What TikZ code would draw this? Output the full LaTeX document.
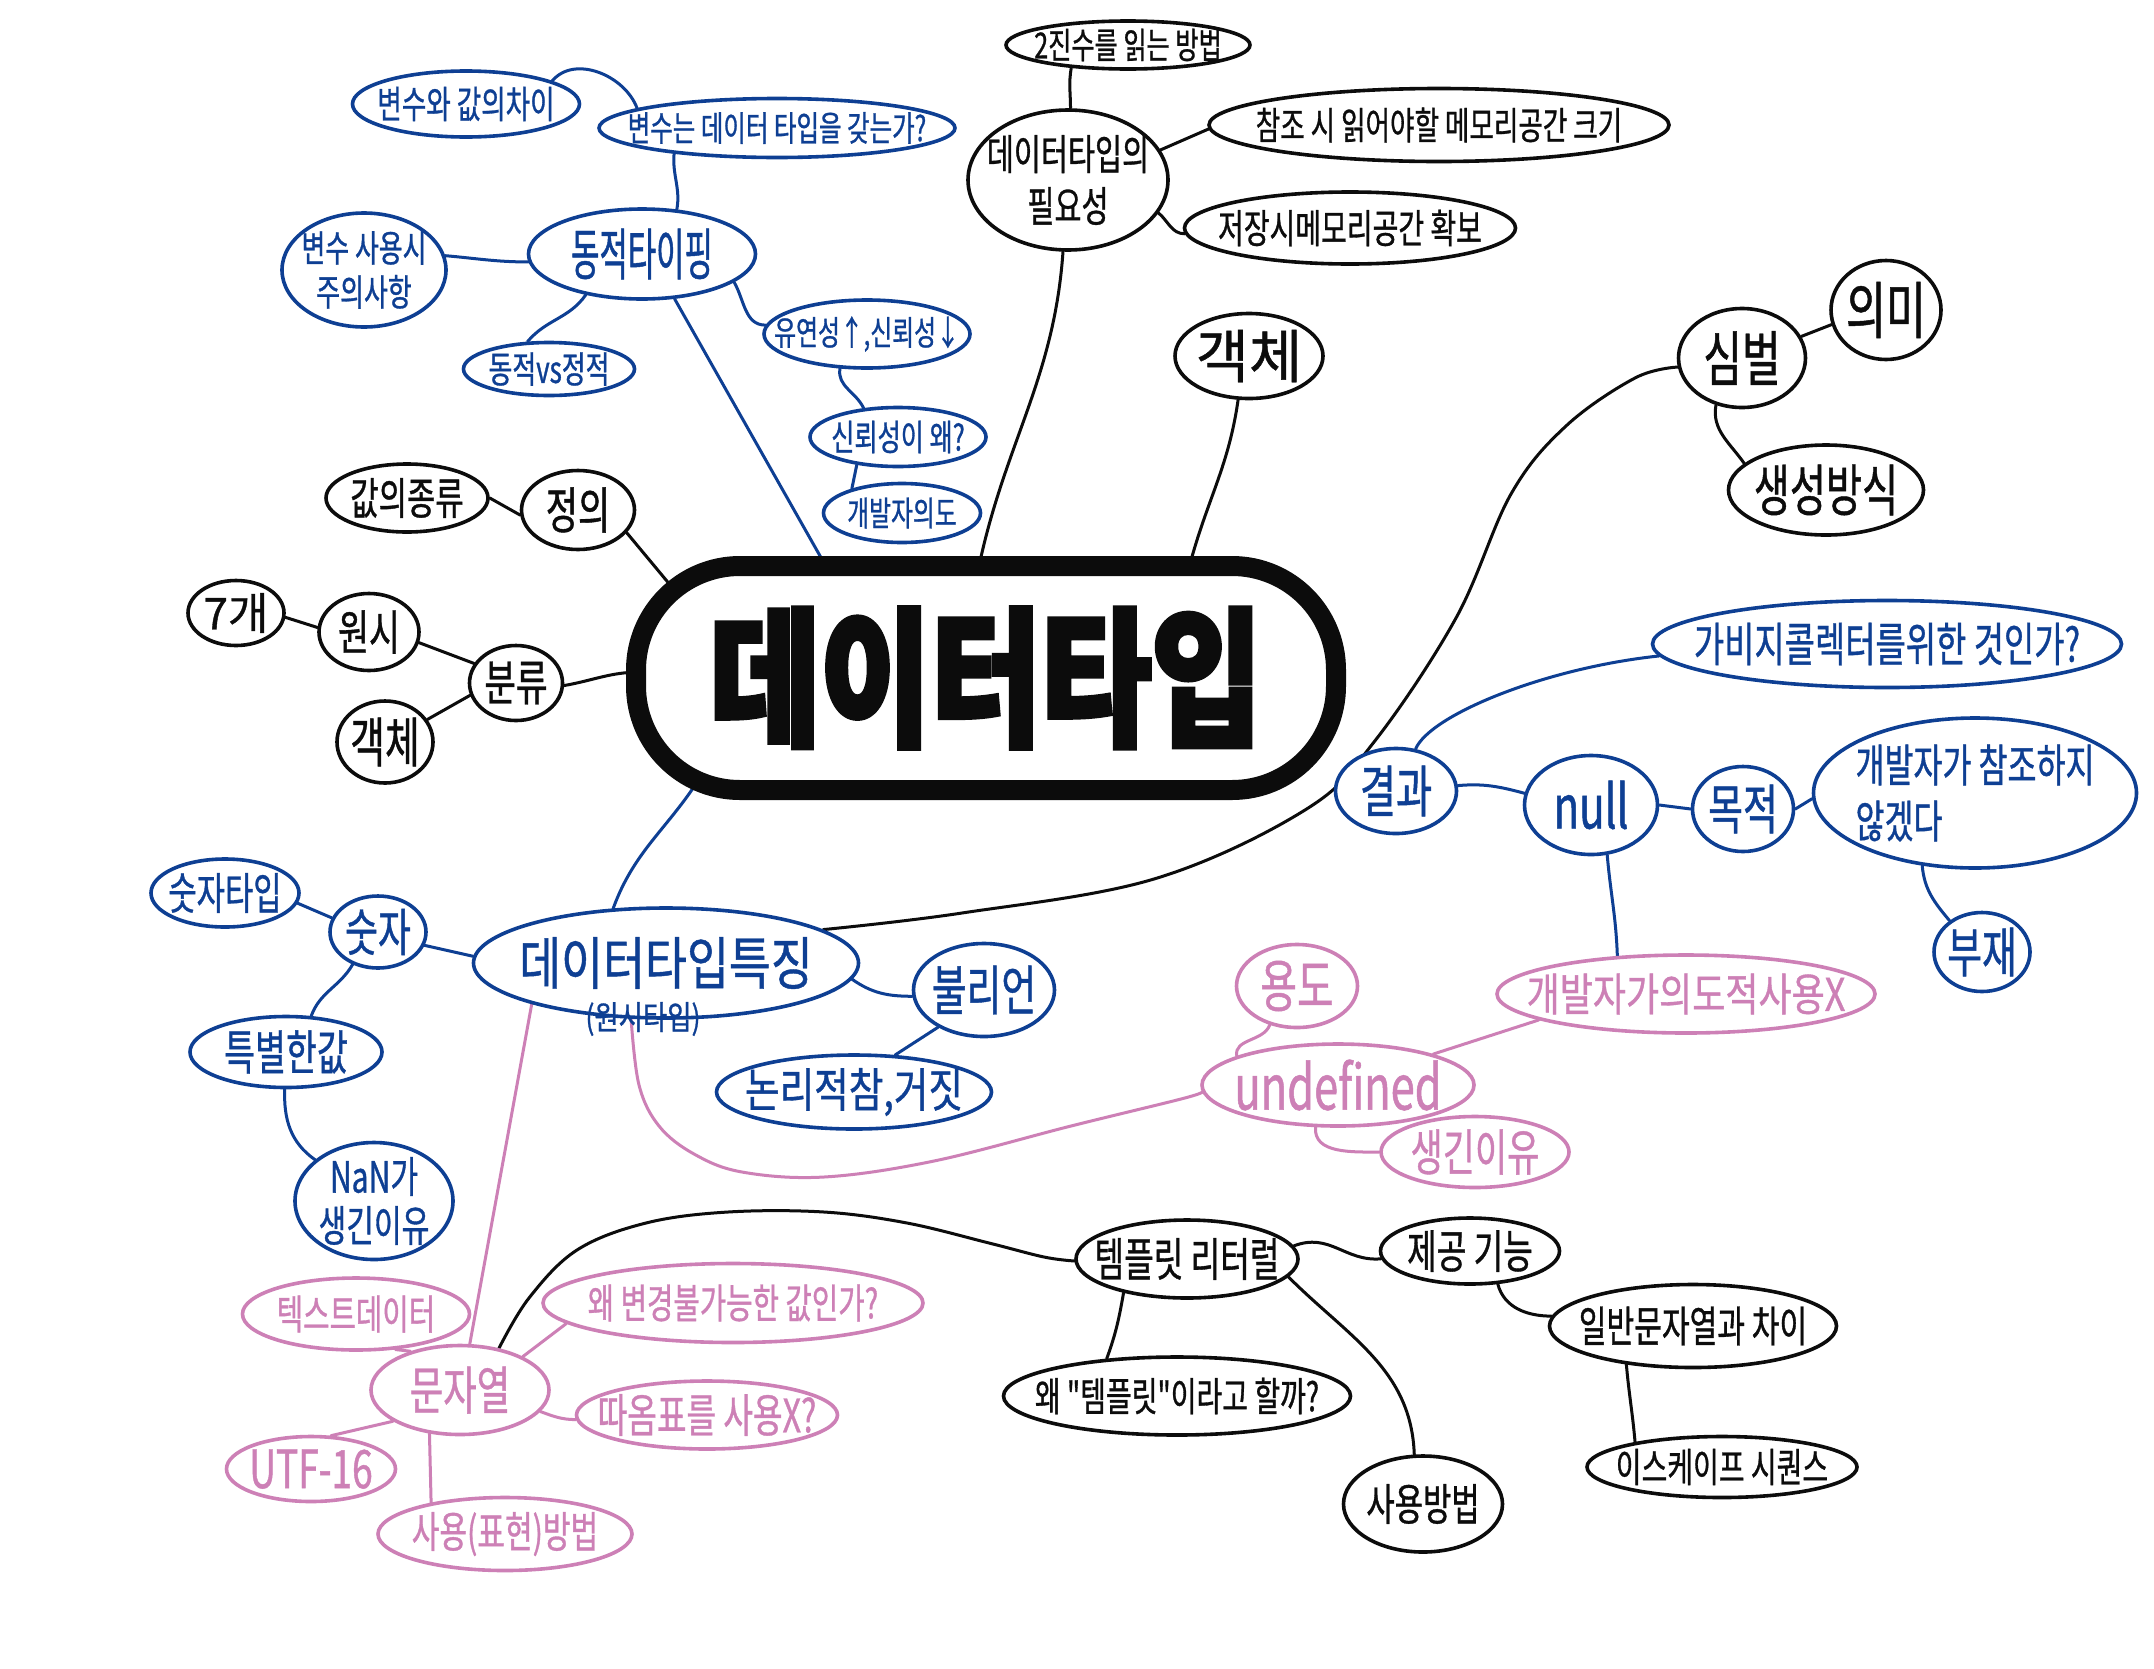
\documentclass[tikz,border=0pt]{standalone}
\usepackage{fontspec}
\newfontfamily\kr[FakeStretch=0.7,FakeBold=0.8]{Noto Sans CJK KR}
\newfontfamily\krn[FakeStretch=0.55,FakeBold=0.8]{Noto Sans CJK KR}
\newfontfamily\krm[FakeStretch=0.8,FakeBold=0.8,BoldFeatures={FakeBold=3}]{Noto Sans CJK KR}
\newfontfamily\krw[FakeBold=0.8]{Noto Sans CJK KR}
\newcommand\fsz[1]{\fontsize{#1}{#1}\selectfont}
\usetikzlibrary{shapes.geometric,calc}
\pgfdeclarelayer{bg}
\pgfdeclarelayer{edges}
\pgfsetlayers{bg,edges,main}
\definecolor{blu}{RGB}{14,63,147}
\definecolor{pnk}{RGB}{205,128,182}
\definecolor{ink}{RGB}{12,12,12}
\tikzset{
  bub/.style={ellipse, draw=ink, text=ink, fill=white, line width=3.6pt,
              inner xsep=-400pt, inner ysep=-200pt},
  bn/.style={bub},
  bl/.style={bub, draw=blu, text=blu},
  pk/.style={bub, draw=pnk, text=pnk},
  fk/.style={font={\kr\fsz{#1}}},
  fkn/.style={font={\krn\fsz{#1}}},
  fkm/.style={font={\krm\fsz{#1}}},
  fkw/.style={font={\krw\fsz{#1}}},
  wh/.style 2 args={minimum width=#1, minimum height=#2},
  ce/.style={draw=ink, line width=3pt, line cap=round},
  be/.style={draw=blu, line width=3pt, line cap=round},
  pe/.style={draw=pnk, line width=3pt, line cap=round},
}
\begin{document}
\begin{tikzpicture}[x=1pt,y=-1pt]
\begin{pgfonlayer}{bg}
\fill[white] (0,0) rectangle (2154,1668);
\end{pgfonlayer}
\useasboundingbox (0,0) rectangle (2154,1668);

% ---------- centre ----------
\node[draw=ink, line width=20pt, rounded corners=104pt, minimum width=700pt,
      minimum height=224pt, inner sep=0pt, fill=white, text=ink,
      font={\krm\bfseries\fontsize{150}{150}\selectfont}] (main) at (986,678) {데이터타입};

% ---------- blue, top left ----------
\node[bl, wh={227}{66}, fk=38] (vdiff) at (466,104) {변수와 값의차이};
\node[bl, wh={356}{59}, fk=35] (vtype) at (777,128) {변수는 데이터 타입을 갖는가?};
\node[bl, wh={227}{90}, fkn=56] (dyn) at (642,254) {동적타이핑};
\node[bl, wh={164}{114}, align=center, font={\kr\fontsize{37}{44}\selectfont}] (vuse) at (364,270) {변수 사용시\\주의사항};
\node[bl, wh={171}{53}, fk=37] (dvs) at (549,369) {동적vs정적};
\node[bl, wh={206}{68}, fk=34] (flex) at (867,334) {유연성↑,신뢰성↓};
\node[bl, wh={176}{59}, fk=36] (rel) at (898,437) {신뢰성이 왜?};
\node[bl, wh={157}{59}, fk=34] (intent) at (902,513) {개발자의도};

% ---------- black, top ----------
\node[bn, wh={244}{48}, fk=36] (bin) at (1128,45) {2진수를 읽는 방법};
\node[bn, wh={200}{140}, align=center, font={\kr\fontsize{42}{52}\selectfont}] (need) at (1068,180) {데이터타입의\\필요성};
\node[bn, wh={460}{73}, fk=38] (ref) at (1439,125) {참조 시 읽어야할 메모리공간 크기};
\node[bn, wh={331}{72}, fk=40] (store) at (1350,228) {저장시메모리공간 확보};
\node[bn, wh={148}{85}, fkw=58] (obj1) at (1249,356) {객체};
\node[bn, wh={127}{99}, fk=60] (sym) at (1742,358) {심벌};
\node[bn, wh={110}{99}, fk=62] (mean) at (1886,310) {의미};
\node[bn, wh={195}{90}, fk=56] (gen) at (1826,490) {생성방식};

% ---------- black, left ----------
\node[bn, wh={162}{68}, fk=44] (kinds) at (407,498) {값의종류};
\node[bn, wh={113}{79}, fk=50] (def) at (578,510) {정의};
\node[bn, wh={96}{65}, fkw=44] (seven) at (236,613) {7개};
\node[bn, wh={100}{77}, fk=48] (prim) at (369,632) {원시};
\node[bn, wh={93}{75}, fk=49] (cls) at (516,683) {분류};
\node[bn, wh={96}{82}, fk=54] (obj2) at (385,742) {객체};

% ---------- blue, right ----------
\node[bl, wh={469}{87}, fk=47] (gc) at (1887,644) {가비지콜렉터를위한 것인가?};
\node[bl, wh={121}{85}, fk=56] (res) at (1396,791) {결과};
\node[bl, wh={133}{99}, fk=60] (nul) at (1591,805) {null};
\node[bl, wh={101}{85}, fk=54] (purp) at (1743,809) {목적};
\node[bl, wh={323}{150}, align=left, font={\kr\fontsize{45}{56}\selectfont}] (noref) at (1975,793) {개발자가 참조하지\\않겠다};
\node[bl, wh={96}{79}, fk=54] (absent) at (1982,952) {부재};

% ---------- blue, lower left ----------
\node[bl, wh={148}{68}, fk=44] (numtype) at (225,893) {숫자타입};
\node[bl, wh={96}{72}, fk=51] (num) at (378,932) {숫자};
\node[bl, wh={385}{110}, fkm=57] (feat) at (666,963) {데이터타입특징};
\node[text=blu, fkm=33, inner sep=0pt] (featsub) at (643,1019) {(원시타입)};
\node[bl, wh={141}{93}, fk=54] (bool) at (984,990) {불리언};
\node[bl, wh={275}{74}, fkm=47] (logic) at (854,1092) {논리적참,거짓};
\node[bl, wh={192}{71}, fk=48] (special) at (286,1052) {특별한값};
\node[bl, wh={158}{117}, align=center, font={\kr\fontsize{43}{49}\selectfont}] (nan) at (374,1201) {NaN가\\생긴이유};

% ---------- pink ----------
\node[pk, wh={121}{83}, fk=57] (usage) at (1297,986) {용도};
\node[pk, wh={378}{78}, fkm=45] (intx) at (1686,994) {개발자가의도적사용X};
\node[pk, wh={272}{82}, fk=62] (undef) at (1338,1085) {undefined};
\node[pk, wh={188}{71}, fk=50] (why) at (1475,1152) {생긴이유};
\node[pk, wh={227}{72}, fk=41] (txt) at (356,1314) {텍스트데이터};
\node[pk, wh={380}{79}, fk=41] (immut) at (733,1303) {왜 변경불가능한 값인가?};
\node[pk, wh={178}{89}, fk=52] (str) at (460,1390) {문자열};
\node[pk, wh={261}{68}, fk=46] (quote) at (707,1415) {따옴표를 사용X?};
\node[pk, wh={169}{65}, fk=53] (utf) at (311,1469) {UTF-16};
\node[pk, wh={254}{73}, fk=43] (how) at (505,1534) {사용(표현)방법};

% ---------- black, bottom ----------
\node[bn, wh={222}{78}, fk=46] (tpl) at (1187,1259) {템플릿 리터럴};
\node[bn, wh={179}{66}, fk=46] (provide) at (1470,1251) {제공 기능};
\node[bn, wh={347}{78}, fk=40] (whytpl) at (1177,1396) {왜 "템플릿"이라고 할까?};
\node[bn, wh={287}{83}, fk=43] (diff) at (1693,1326) {일반문자열과 차이};
\node[bn, wh={159}{96}, fk=44] (tuse) at (1423,1504) {사용방법};
\node[bn, wh={270}{61}, fk=40] (esc) at (1722,1467) {이스케이프 시퀀스};

\begin{pgfonlayer}{edges}
% blue
\draw[be] (vdiff.15) to[out=50,in=110] (vtype.172);
\draw[be] (vtype.194) to[out=265,in=80] (dyn.52);
\draw[be] (vuse.10) to[out=-5,in=180] (dyn.184);
\draw[be] (dyn.216) to[out=235,in=50] (dvs.128);
\draw[be] (dyn.343) to[out=300,in=180] (flex.175);
\draw[be] (dyn.306) -- ($(main.center)+(-158,-108)$);
\draw[be] (flex.232) to[out=260,in=115] (rel.140);
\draw[be] (rel.214) -- (intent.154);
\draw[be] ($(main.center)+(-285,98)$) to[out=238,in=70] (feat.134);
\draw[be] (feat.178) -- (num.344);
\draw[be] (num.163) -- (numtype.352);
\draw[be] (num.232) to[out=240,in=70] (special.55);
\draw[be] (special.268) to[out=268,in=145] (nan.145);
\draw[be] (feat.355) to[out=-35,in=180] (bool.185);
\draw[be] (bool.219) -- (logic.42);
\draw[be] (nul.170) to[out=165,in=5] (res.5);
\draw[be] (res.65) .. controls (1430,715) and (1545,668) .. (gc.183);
\draw[be] (nul.0) -- (purp.180);
\draw[be] (purp.0) -- (noref.182);
\draw[be] (noref.234) to[out=275,in=130] (absent.136);
\draw[be] (nul.288) to[out=275,in=92] (intx.151);
% black
\draw[ce] plot[smooth,tension=0.6] coordinates {(feat.12) (962,913) (1154,879) (1305,810) (1374,742) (1456,618) (1511,494) (1566,426) (1635,378) (sym.188)};
\draw[ce] (sym.20) -- (mean.195);
\draw[ce] (sym.241) to[out=260,in=125] (gen.162);
\draw[ce] (need.266) to[out=266,in=78] ($(main.center)+(-7,-112)$);
\draw[ce] (need.88) to[out=90,in=260] (bin.202);
\draw[ce] (need.18) -- (ref.181);
\draw[ce] (need.340) to[out=-40,in=180] (store.182);
\draw[ce] (obj1.256) to[out=262,in=75] ($(main.center)+(204,-114)$);
\draw[ce] (def.335) -- ($(main.center)+(-305,-80)$);
\draw[ce] (kinds.0) -- (def.185);
\draw[ce] (cls.357) to[out=10,in=180] ($(main.center)+(-345,-6)$);
\draw[ce] (prim.348) -- (cls.155);
\draw[ce] (cls.195) -- (obj2.28);
\draw[ce] (prim.175) -- (seven.355);
\draw[ce] plot[smooth,tension=0.6] coordinates {(str.47) (529,1298) (577,1250) (646,1223) (728,1212) (824,1212) (907,1223) (989,1243) (1044,1257) (tpl.181)};
\draw[ce] (tpl.7) .. controls (1330,1232) and (1345,1262) .. (provide.185);
\draw[ce] (tpl.208) to[out=260,in=70] (whytpl.152);
\draw[ce] (tpl.350) to[out=-45,in=92] (tuse.100);
\draw[ce] (provide.310) to[out=285,in=180] (diff.176);
\draw[ce] (diff.210) to[out=275,in=95] (esc.164);
% pink
\draw[pe] (feat.197) -- (str.78);
\draw[pe] plot[smooth,tension=0.6] coordinates {(feat.238) (639,1085) (659,1126) (694,1154) (742,1172) (824,1177) (934,1161) (1071,1126) (1181,1099) (undef.183)};
\draw[pe] (undef.164) to[out=100,in=250] (usage.235);
\draw[pe] (undef.18) -- (intx.190);
\draw[pe] (undef.242) to[out=265,in=180] (why.180);
\draw[pe] (str.142) -- (txt.318);
\draw[pe] (str.28) -- (immut.187);
\draw[pe] (str.345) to[out=-20,in=180] (quote.182);
\draw[pe] (str.205) -- (utf.59);
\draw[pe] (str.235) -- (how.157);
\end{pgfonlayer}
\end{tikzpicture}
\end{document}
